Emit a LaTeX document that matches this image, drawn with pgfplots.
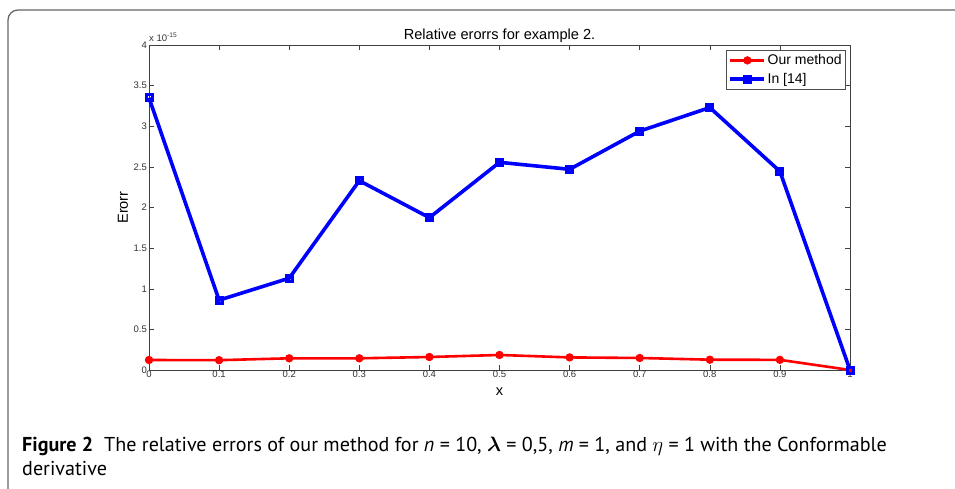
\documentclass[border=0pt]{standalone}
\usepackage{pgfplots}
\pgfplotsset{compat=1.18}
\usepackage{amsmath}
\usepackage{fontspec}
\setmainfont{Liberation Sans}
\newfontfamily\capfont{PT Sans}
\begin{document}
\begin{tikzpicture}[x=1pt,y=1pt]
\clip (0,0) rectangle (955,488);
\fill[white] (0,0) rectangle (955,488);
\draw[black!60, line width=1.3pt, rounded corners=10pt] (8,-20) -- (8,478) -- (975,478);
\begin{axis}[
  at={(149pt,118pt)}, anchor=south west,
  scale only axis, width=701pt, height=325pt,
  xmin=0, xmax=1, ymin=0, ymax=4,
  xtick={0,0.1,0.2,0.3,0.4,0.5,0.6,0.7,0.8,0.9,1},
  xticklabels={0,0.1,0.2,0.3,0.4,0.5,0.6,0.7,0.8,0.9,1},
  ytick={0,0.5,1,1.5,2,2.5,3,3.5,4},
  yticklabels={0,0.5,1,1.5,2,2.5,3,3.5,4},
  /pgf/number format/assume math mode=true,
  axis line style={black!75, line width=0.6pt},
  tick style={black!75, line width=0.5pt},
  major tick length=5pt,
  tick label style={font=\fontsize{9.5}{10}\selectfont, text=black!80},
  xticklabel style={inner sep=1pt},
  yticklabel style={inner sep=2pt},
  title={Relative erorrs for example 2.},
  every axis title/.style={at={(axis description cs:0.5,1.03)}, anchor=center, font=\fontsize{14.6}{15}\selectfont},
  xlabel={x}, ylabel={Erorr},
  every axis x label/.style={at={(axis description cs:0.5,-0.0677)}, anchor=center, font=\fontsize{14.6}{15}\selectfont},
  every axis y label/.style={at={(axis description cs:-0.0371,0.5)}, rotate=90, anchor=center, font=\fontsize{14.6}{15}\selectfont},
  legend style={at={(axis description cs:0.994,0.985)}, anchor=north east, draw=black!70,
    font=\fontsize{14}{15}\selectfont, inner sep=2.5pt, row sep=3pt,
    nodes={inner xsep=1.5pt}},
  legend cell align=left,
  legend image code/.code={\draw[mark repeat=2,mark phase=2] plot coordinates {(0pt,0pt) (17pt,0pt) (34pt,0pt)};},
  clip=false,
]
\addplot[red, line width=2.6pt, mark=*, mark size=2.8pt] coordinates {
(0,0.123) (0.1,0.121) (0.2,0.144) (0.3,0.144) (0.4,0.160) (0.5,0.185)
(0.6,0.155) (0.7,0.148) (0.8,0.127) (0.9,0.125) (1,0.0)};
\addlegendentry{Our method}
\addplot[blue, line width=3.6pt, mark=square, mark size=3pt, mark options={line width=3pt}] coordinates {
(0,3.35) (0.1,0.86) (0.2,1.13) (0.3,2.33) (0.4,1.875) (0.5,2.556)
(0.6,2.47) (0.7,2.94) (0.8,3.23) (0.9,2.445) (1,0.0)};
\addlegendentry{In [14]}
\node[anchor=west, inner sep=0pt, font=\fontsize{9.5}{10}\selectfont, text=black!80] at (axis description cs:0,1.025) {x 10$^{\text{-15}}$};
\end{axis}
\node[anchor=base west, inner sep=0pt, font=\capfont\fontsize{20.1}{22}\selectfont] at (22,37)
  {\textbf{Figure 2}\hspace{0.55em}The relative errors of our method for \textit{n} = 10, $\boldsymbol{\lambda}$ = 0,5, \textit{m} = 1, and $\eta$ = 1 with the Conformable};
\node[anchor=base west, inner sep=0pt, font=\capfont\fontsize{20.1}{22}\selectfont] at (22,13)
  {derivative};
\end{tikzpicture}
\end{document}
